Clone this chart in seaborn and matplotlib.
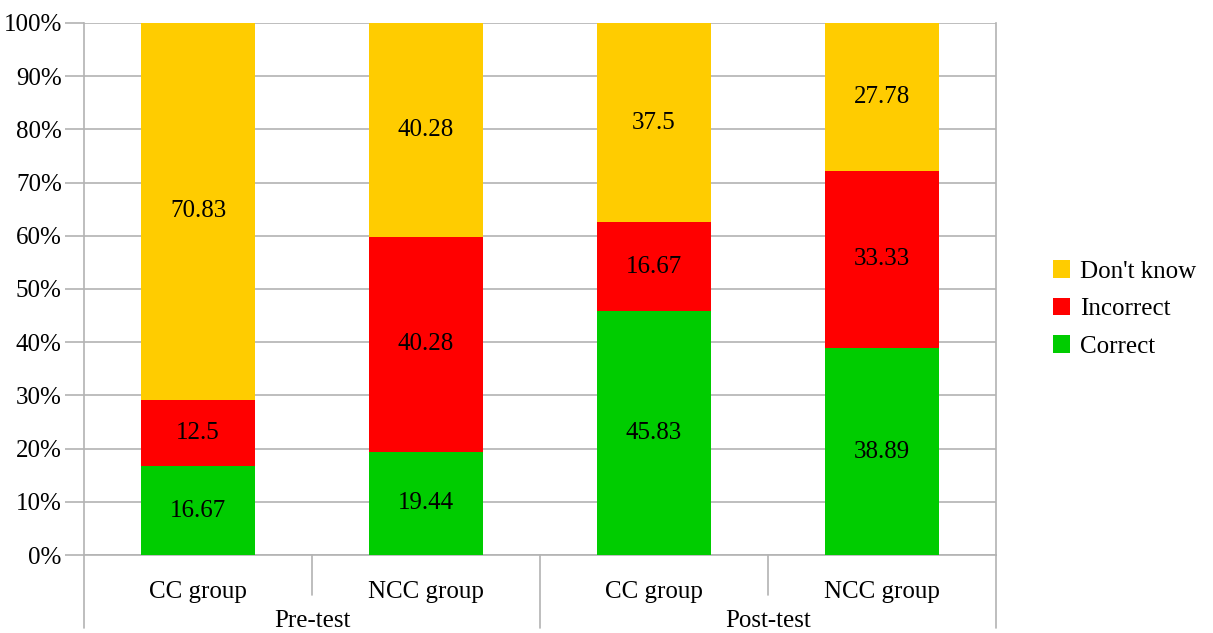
import numpy as np
import pandas as pd
import matplotlib
matplotlib.use("Agg")
import matplotlib.pyplot as plt
import seaborn as sns

# data
groups = ["CC group", "NCC group", "CC group", "NCC group"]
tests = ["Pre-test", "Post-test"]
correct = [16.67, 19.44, 45.83, 38.89]
incorrect = [12.5, 40.28, 16.67, 33.33]
dont_know = [70.83, 40.28, 37.5, 27.78]

colors = {"Correct": "#00cc00", "Incorrect": "#ff0000", "Don't know": "#ffcc00"}

sns.set_theme(style="white")
plt.rcParams["font.family"] = ["Liberation Serif", "DejaVu Serif"]
plt.rcParams["text.color"] = "black"
plt.rcParams["xtick.labelcolor"] = "black"
plt.rcParams["ytick.labelcolor"] = "black"
GRID = "#b3b3b3"
FS = 18

bar_ids = [f"{t}|{g}" for t in tests for g in groups[:2]]
df = pd.DataFrame({"bar": bar_ids, "Correct": correct,
                   "Incorrect": incorrect, "Don't know": dont_know})
df["top_correct"] = df["Correct"]
df["top_incorrect"] = df["Correct"] + df["Incorrect"]
df["top_dk"] = df["top_incorrect"] + df["Don't know"]

fig = plt.figure(figsize=(12.13, 6.33), dpi=100)
ax = fig.add_axes([84 / 1213, 1 - 555 / 633, (996 - 84) / 1213, (555 - 23) / 633])

# stacked bars: draw cumulative totals back to front
for col, name in [("top_dk", "Don't know"), ("top_incorrect", "Incorrect"), ("top_correct", "Correct")]:
    sns.barplot(data=df, x="bar", y=col, color=colors[name], width=0.5,
                saturation=1, ax=ax, label=name, zorder=3, linewidth=0)

# value labels in the middle of each segment
for i, row in df.iterrows():
    bottom = 0
    for name in ["Correct", "Incorrect", "Don't know"]:
        v = row[name]
        ax.text(i, bottom + v / 2, f"{v:g}", ha="center", va="center",
                fontsize=FS, color="black", zorder=5)
        bottom += v

ax.set_xlim(-0.5, 3.5)
ax.set_ylim(0, 100)
ax.set_yticks(np.arange(0, 101, 10))
ax.set_yticklabels([f"{v}%" for v in range(0, 101, 10)], fontsize=FS)
ax.yaxis.grid(True, color=GRID, linewidth=1.2, zorder=0)
ax.set_axisbelow(True)
ax.tick_params(axis="y", length=14, width=1.2, color=GRID, pad=2, left=True,
               labelcolor="black")
ax.set_xlabel("")
ax.set_ylabel("")

for s in ["left", "right", "bottom"]:
    ax.spines[s].set_visible(True)
    ax.spines[s].set_color(GRID)
    ax.spines[s].set_linewidth(1.2)
ax.spines["top"].set_visible(False)

# two-level category axis
ax.set_xticks(range(4))
ax.set_xticklabels(groups, fontsize=FS)
ax.tick_params(axis="x", length=0, pad=19, labelcolor="black")
ah = 555 - 23
trans = ax.get_xaxis_transform()
for xb in [0.5, 2.5]:
    ax.plot([xb, xb], [0, -40 / ah], color=GRID, lw=1.2, transform=trans, clip_on=False)
for xb in [-0.5, 1.5, 3.5]:
    ax.plot([xb, xb], [0, -73 / ah], color=GRID, lw=1.2, transform=trans, clip_on=False)
for j, t in enumerate(tests):
    ax.text(j * 2 + 0.5, -66 / ah, t, ha="center", va="center",
            fontsize=FS, color="black", transform=trans)

handles, labels = ax.get_legend_handles_labels()
leg = fig.legend(handles, labels, loc="center left", bbox_to_anchor=(1030 / 1213, 1 - 309 / 633),
                 frameon=False, fontsize=FS, handlelength=0.7, handleheight=0.7,
                 handletextpad=0.4, labelspacing=0.6, labelcolor="black")
if ax.get_legend() is not None:
    ax.get_legend().remove()

fig.savefig("out.png", dpi=100)
